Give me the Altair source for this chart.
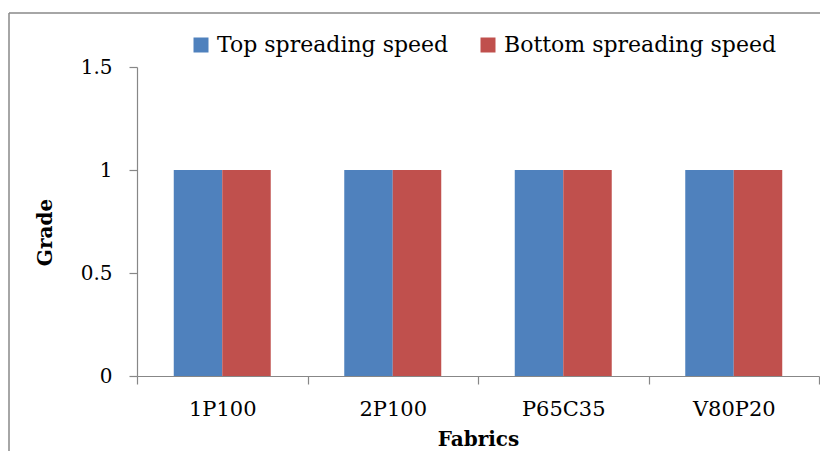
import altair as alt
import pandas as pd

fabrics = ["1P100", "2P100", "P65C35", "V80P20"]
series = ["Top spreading speed", "Bottom spreading speed"]
top_speed = [1, 1, 1, 1]
bottom_speed = [1, 1, 1, 1]
colors = ["#4F81BD", "#C0504D"]
y_ticks = [0, 0.5, 1, 1.5]

rows = []
for f, t, b in zip(fabrics, top_speed, bottom_speed):
    rows.append({"Fabric": f, "Series": series[0], "Grade": t})
    rows.append({"Fabric": f, "Series": series[1], "Grade": b})
df = pd.DataFrame(rows)

W, H = 682, 309
FONT = "DejaVu Serif"

bars = alt.Chart(df).mark_bar().encode(
    x=alt.X("Fabric:N", sort=fabrics,
            scale=alt.Scale(paddingInner=0, paddingOuter=0),
            axis=alt.Axis(title="Fabrics", labelAngle=0, tickBand="extent",
                          tickSize=8, labelPadding=14, labelFontSize=21,
                          titleFontSize=20, titleFontWeight="bold",
                          titleY=69, titleBaseline="alphabetic")),
    xOffset=alt.XOffset("Series:N", sort=series,
                        scale=alt.Scale(paddingOuter=0.758, paddingInner=0)),
    y=alt.Y("Grade:Q", scale=alt.Scale(domain=[0, 1.5], nice=False),
            axis=alt.Axis(title="Grade", values=y_ticks, format="~g", grid=False,
                          tickSize=8, labelPadding=17, labelFontSize=20,
                          titleFontSize=20, titleFontWeight="bold",
                          titleAngle=-90, titleX=-92, titleY=165,
                          titleBaseline="middle", titleAlign="center")),
    color=alt.Color("Series:N", sort=series,
                    scale=alt.Scale(domain=series, range=colors),
                    legend=alt.Legend(title=None, orient="none", direction="horizontal",
                                      legendX=53, legendY=-33, symbolType="square",
                                      symbolSize=225, symbolStrokeWidth=0,
                                      labelFontSize=22, labelOffset=5, labelLimit=500,
                                      columnPadding=28, padding=0)),
)

frame_df = pd.DataFrame({"k": [0]})
left_border = alt.Chart(frame_df).mark_rule(color="#888888", strokeWidth=1.5).encode(
    x=alt.value(-128), y=alt.value(-54), y2=alt.value(H + 120))
top_border = alt.Chart(frame_df).mark_rule(color="#888888", strokeWidth=1.5).encode(
    x=alt.value(-128), x2=alt.value(W + 40), y=alt.value(-54))

chart = alt.layer(bars, left_border, top_border).properties(
    width=W, height=H,
    autosize=alt.AutoSizeParams(type="none"),
    padding={"left": 129, "top": 59, "right": 1, "bottom": 75},
).configure(font=FONT).configure_axis(
    domainColor="#878787", tickColor="#878787", domainWidth=1.2, tickWidth=1.2,
    labelColor="#000000", titleColor="#000000", labelFont=FONT, titleFont=FONT,
).configure_legend(labelFont=FONT, labelColor="#000000").configure_view(stroke=None)

chart.save("out.html", embed_options={"renderer": "svg", "actions": False})
